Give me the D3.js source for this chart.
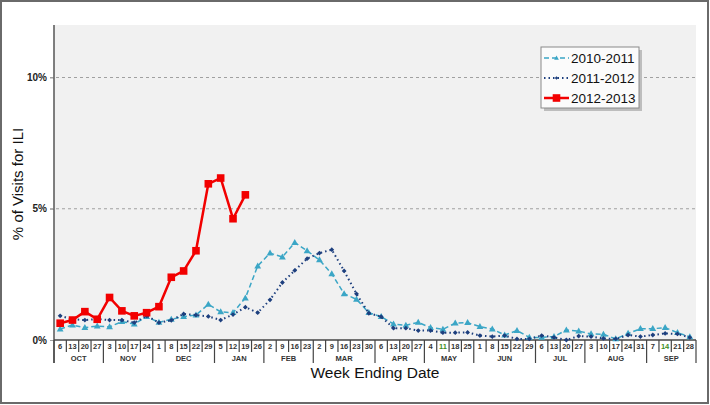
<!DOCTYPE html>
<html>
<head>
<meta charset="utf-8">
<script src="https://cdn.jsdelivr.net/npm/d3@7"></script>
<style>
  body { margin: 0; background: #fff; }
  svg { display: block; font-family: Arial, "Liberation Sans", sans-serif; }
</style>
</head>
<body>
<div id="chart"></div>
<script>
const width = 710,
      height = 405;

// week ending day numbers, Oct .. Sep
const weekDays = [6,13,20,27, 3,10,17,24, 1,8,15,22,29, 5,12,19,26, 2,9,16,23,
                  2,9,16,23,30, 6,13,20,27, 4,11,18,25, 1,8,15,22,29, 6,13,20,27,
                  3,10,17,24,31, 7,14,21,28]
const monthNames = ["OCT","NOV","DEC","JAN","FEB","MAR","APR","MAY","JUN","JUL","AUG","SEP"]
const monthWeeks = [4,4,5,4,4,5,4,4,5,4,5,4]
const yTicks = [0, 5, 10]

const season1011 = [0.42,0.57,0.47,0.53,0.50,0.70,0.61,0.89,0.67,0.79,0.89,0.95,1.36,1.07,1.04,1.60,2.82,
                    3.31,3.16,3.71,3.40,3.05,2.52,1.76,1.55,1.04,0.89,0.61,0.56,0.67,
                    0.47,0.41,0.64,0.66,0.51,0.42,0.19,0.36,0.10,0.10,0.13,0.38,0.34,0.23,0.22,0.04,
                    0.25,0.43,0.43,0.47,0.28,0.12]
const season1112 = [0.92,0.79,0.76,0.80,0.76,0.76,0.66,0.92,0.66,0.75,0.99,0.95,0.90,0.76,0.97,1.25,1.04,
                    1.53,2.19,2.65,3.10,3.31,3.44,2.63,1.76,1.02,0.89,0.45,0.45,0.36,
                    0.36,0.28,0.28,0.29,0.17,0.13,0.17,0.04,0.04,0.17,0.10,0.00,0.15,0.13,0.06,0.04,
                    0.19,0.13,0.19,0.25,0.23,0.10]
const season1213 = [0.64,0.76,1.08,0.79,1.62,1.11,0.92,1.04,1.27,2.39,2.63,3.40,5.95,6.17,4.62,5.53]

const series = [
  { name: "2010-2011", values: season1011, color: "#3ba6c6", width: 1.5, dash: "5,3", marker: "triangle" },
  { name: "2011-2012", values: season1112, color: "#1d3f7e", width: 2, dash: "1.5,3", marker: "diamond" },
  { name: "2012-2013", values: season1213, color: "#f20000", width: 2.5, dash: null, marker: "square" }
]

const plotLeft = 54, plotRight = 696, plotTop = 25, plotBottom = 340

const x = d3.scaleBand()
            .domain(d3.range(weekDays.length))
            .range([plotLeft, plotRight])
            .padding(0)

const y = d3.scaleLinear()
            .domain([0, 12])
            .range([plotBottom, plotTop])

const svg = d3.select("#chart")
  .append("svg")
    .attr("width", width)
    .attr("height", height)

// outer frame
svg.append("rect")
  .attr("x", 1).attr("y", 1)
  .attr("width", width - 3).attr("height", height - 3)
  .attr("fill", "#fff")
  .attr("stroke", "#6a6a6a")
  .attr("stroke-width", 2)

// plot background
svg.append("rect")
  .attr("x", plotLeft).attr("y", plotTop)
  .attr("width", plotRight - plotLeft).attr("height", plotBottom - plotTop)
  .attr("fill", "#f1f1f1")

// gridlines
svg.append("g")
  .selectAll("line")
  .data(yTicks.filter(d => d > 0))
  .join("line")
    .attr("x1", plotLeft - 4).attr("x2", plotRight)
    .attr("y1", d => y(d)).attr("y2", d => y(d))
    .attr("stroke", "#a0a0a0")
    .attr("stroke-dasharray", "3,3")

// y axis
const yAxis = svg.append("g")
  .attr("transform", `translate(${plotLeft},0)`)
  .call(d3.axisLeft(y).tickValues(yTicks).tickFormat(d => d + "%").tickSize(4))
yAxis.select(".domain").remove()
yAxis.selectAll("line").attr("stroke", "#a0a0a0")
yAxis.selectAll("text")
  .attr("x", -7)
  .style("font-size", "10px")
  .style("font-weight", "bold")
  .attr("fill", "#222")

svg.append("line")
  .attr("x1", plotLeft).attr("x2", plotLeft)
  .attr("y1", plotTop).attr("y2", 363)
  .attr("stroke", "#555").attr("stroke-width", 1.5)

// x axis: weeks row + month row
const xg = svg.append("g")
xg.append("line")
  .attr("x1", plotLeft).attr("x2", plotRight)
  .attr("y1", plotBottom).attr("y2", plotBottom)
  .attr("stroke", "#444").attr("stroke-width", 1.5)

// month start indices
let starts = [], acc = 0
monthWeeks.forEach(n => { starts.push(acc); acc += n })
const monthStart = new Set(starts)

xg.selectAll("line.week")
  .data(d3.range(weekDays.length + 1))
  .join("line")
    .attr("class", "week")
    .attr("x1", i => i < weekDays.length ? x(i) : plotRight)
    .attr("x2", i => i < weekDays.length ? x(i) : plotRight)
    .attr("y1", plotBottom)
    .attr("y2", i => (monthStart.has(i) || i === weekDays.length) ? 363 : 352)
    .attr("stroke", "#444")
    .attr("stroke-width", 1.2)

const greenWeeks = new Set([31, 49])
xg.selectAll("text.week")
  .data(weekDays)
  .join("text")
    .attr("class", "week")
    .attr("x", (d, i) => x(i) + x.bandwidth() / 2)
    .attr("y", 349)
    .attr("text-anchor", "middle")
    .style("font-size", "7.5px")
    .style("font-weight", "bold")
    .attr("fill", (d, i) => greenWeeks.has(i) ? "#3f8f1f" : "#333")
    .text(d => d)

xg.selectAll("text.month")
  .data(monthNames)
  .join("text")
    .attr("class", "month")
    .attr("x", (d, i) => x(starts[i]) + x.bandwidth() * monthWeeks[i] / 2)
    .attr("y", 361)
    .attr("text-anchor", "middle")
    .style("font-size", "7.5px")
    .style("font-weight", "bold")
    .attr("fill", "#333")
    .text(d => d)

// axis titles
svg.append("text")
  .attr("x", 375).attr("y", 378)
  .attr("text-anchor", "middle")
  .style("font-size", "15.5px")
  .attr("fill", "#111")
  .text("Week Ending Date")

svg.append("text")
  .attr("transform", "translate(23,184) rotate(-90)")
  .attr("text-anchor", "middle")
  .style("font-size", "15px")
  .attr("fill", "#111")
  .text("% of Visits for ILI")

// marker shapes
function drawMarker(g, type, color) {
  if (type === "triangle") {
    g.append("path").attr("d", "M0,-3.6L3.4,2.4L-3.4,2.4Z").attr("fill", color)
  } else if (type === "diamond") {
    g.append("path").attr("d", "M0,-2.4L2.4,0L0,2.4L-2.4,0Z").attr("fill", color)
  } else {
    g.append("rect").attr("x", -3.8).attr("y", -3.8).attr("width", 7.6).attr("height", 7.6).attr("fill", color)
  }
}

const line = d3.line()
  .x((d, i) => x(i) + x.bandwidth() / 2)
  .y(d => y(d))

series.forEach(s => {
  const g = svg.append("g")
  g.append("path")
    .datum(s.values)
    .attr("d", line)
    .attr("fill", "none")
    .attr("stroke", s.color)
    .attr("stroke-width", s.width)
    .attr("stroke-dasharray", s.dash)
    .attr("stroke-linejoin", "round")
  g.selectAll("g.pt")
    .data(s.values)
    .join("g")
      .attr("class", "pt")
      .attr("transform", (d, i) => `translate(${x(i) + x.bandwidth() / 2},${y(d)})`)
      .each(function() { drawMarker(d3.select(this), s.marker, s.color) })
})

// legend
const lg = svg.append("g").attr("transform", "translate(541,47)")
lg.append("rect")
  .attr("x", 3).attr("y", 3).attr("width", 98).attr("height", 61)
  .attr("fill", "#bdbdbd")
lg.append("rect")
  .attr("width", 98).attr("height", 61)
  .attr("fill", "#fbfbfb")
  .attr("stroke", "#8a8a8a")

series.forEach((s, i) => {
  const row = lg.append("g").attr("transform", `translate(0,${11 + i * 20})`)
  row.append("line")
    .attr("x1", 3).attr("x2", 28)
    .attr("stroke", s.color)
    .attr("stroke-width", s.width)
    .attr("stroke-dasharray", s.dash)
  const m = row.append("g").attr("transform", "translate(15.5,0) scale(" + (s.marker === "square" ? 1 : 0.7) + ")")
  drawMarker(m, s.marker, s.color)
  row.append("text")
    .attr("x", 30).attr("y", 5)
    .style("font-size", "13.5px")
    .attr("fill", "#111")
    .text(s.name)
})
</script>
</body>
</html>
